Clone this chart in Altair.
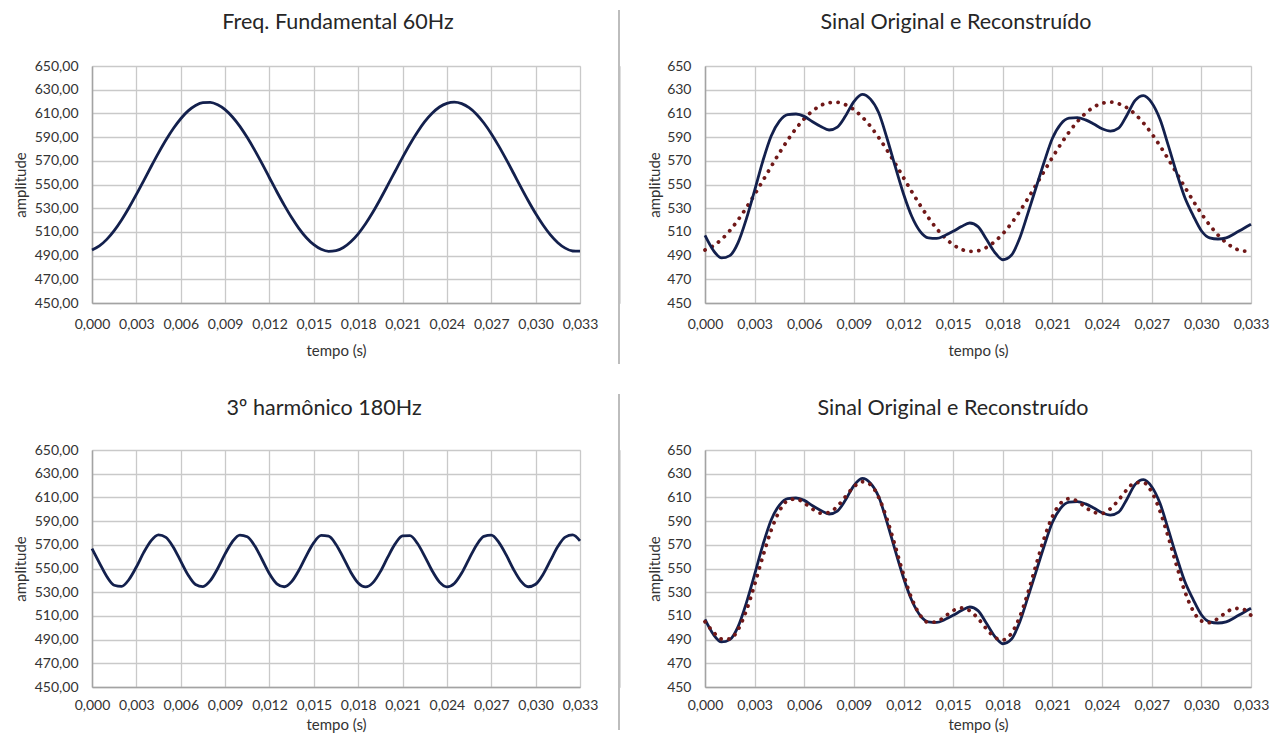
import altair as alt
import pandas as pd

# ---------------- data ----------------
t_s = [0.0, 0.0005, 0.001, 0.0015, 0.002, 0.0025, 0.003, 0.0035, 0.004, 0.0045,
       0.005, 0.0055, 0.006, 0.0065, 0.007, 0.0075, 0.008, 0.0085, 0.009, 0.0095,
       0.01, 0.0105, 0.011, 0.0115, 0.012, 0.0125, 0.013, 0.0135, 0.014, 0.0145,
       0.015, 0.0155, 0.016, 0.0165, 0.017, 0.0175, 0.018, 0.0185, 0.019, 0.0195,
       0.02, 0.0205, 0.021, 0.0215, 0.022, 0.0225, 0.023, 0.0235, 0.024, 0.0245,
       0.025, 0.0255, 0.026, 0.0265, 0.027, 0.0275, 0.028, 0.0285, 0.029, 0.0295,
       0.03, 0.0305, 0.031, 0.0315, 0.032, 0.0325, 0.033]

fund_60hz = [494.8, 498.2, 503.7, 511.1, 520.1, 530.4, 541.6, 553.3, 565.2, 576.7,
             587.5, 597.2, 605.5, 612.1, 616.7, 619.1, 619.3, 617.3, 613.2, 607.0,
             599.1, 589.6, 579.0, 567.6, 555.7, 543.9, 532.6, 522.1, 512.8, 505.1,
             499.2, 495.3, 493.6, 494.1, 496.8, 501.7, 508.4, 516.9, 526.8, 537.8,
             549.4, 561.2, 572.9, 584.0, 594.1, 603.0, 610.1, 615.4, 618.5, 619.5,
             618.2, 614.8, 609.3, 601.9, 592.9, 582.6, 571.4, 559.7, 547.8, 536.3,
             525.5, 515.8, 507.5, 500.9, 496.3, 493.9, 493.7]

harm3_180hz = [566.8, 554.8, 543.3, 535.9, 534.9, 540.7, 551.3, 563.6, 573.6, 578.4,
               576.3, 568.0, 556.2, 544.5, 536.5, 534.7, 539.7, 550.0, 562.3, 572.7,
               578.2, 576.8, 569.2, 557.6, 545.6, 537.1, 534.6, 538.9, 548.7, 560.9,
               571.8, 577.9, 577.3, 570.3, 559.0, 546.9, 537.8, 534.5, 538.1, 547.4,
               559.6, 570.8, 577.5, 577.7, 571.3, 560.3, 548.1, 538.5, 534.5, 537.4,
               546.2, 558.2, 569.7, 577.1, 578.1, 572.3, 561.7, 549.4, 539.4, 534.6,
               536.7, 545.0, 556.8, 568.5, 576.5, 578.3, 573.3]

original = [507, 494.5, 488, 490, 501, 521, 545, 570, 591, 603.5,
            609, 609.5, 607.5, 603, 599, 596, 598.5, 608, 620, 626,
            622, 610.5, 589, 565, 542, 523, 510.5, 505, 504.5, 507,
            510.5, 514.5, 517.5, 514.5, 504, 493, 486.5, 490, 504, 525,
            547, 569, 589, 601, 606, 606.5, 604.5, 601, 597, 595,
            597.5, 608.5, 621, 625, 619, 605, 583, 560, 539, 524,
            511, 505, 504, 505, 508.5, 512.5, 516.5]

reconstructed = [505.1, 496.5, 490.5, 490.5, 498.5, 514.6, 536.4, 560.4, 582.3, 598.6,
                 607.3, 608.7, 605.2, 600.1, 596.7, 597.3, 602.5, 610.8, 619.0, 623.2,
                 620.8, 609.9, 591.7, 568.7, 544.8, 524.5, 510.7, 504.5, 505.0, 509.5,
                 514.5, 516.7, 514.4, 507.9, 499.3, 492.1, 489.7, 494.9, 508.4, 528.7,
                 552.5, 575.5, 593.9, 605.2, 608.9, 606.8, 601.7, 597.4, 596.5, 600.4,
                 607.9, 616.5, 622.5, 622.5, 614.5, 598.4, 576.6, 552.6, 530.7, 514.4,
                 505.7, 504.3, 507.8, 512.9, 516.3, 515.7, 510.5]

x_ticks = [0.0, 0.003, 0.006, 0.009, 0.012, 0.015, 0.018, 0.021, 0.024, 0.027, 0.030, 0.033]
y_ticks = [450, 470, 490, 510, 530, 550, 570, 590, 610, 630, 650]

title_tl = "Freq. Fundamental 60Hz"
title_tr = "Sinal Original e Reconstruído"
title_bl = "3º harmônico 180Hz"
title_br = "Sinal Original e Reconstruído"

# ---------------- styling ----------------
FONT = "Lato"
TXT = "#333333"
GRID = "#c9c9c9"
NAVY = "#13204d"
MAROON = "#701818"

df_f = pd.DataFrame({"t": t_s, "v": fund_60hz})
df_h = pd.DataFrame({"t": t_s, "v": harm3_180hz})
df_o = pd.DataFrame({"t": t_s, "v": original})
df_r = pd.DataFrame({"t": t_s, "v": reconstructed})


def x_enc(label_pad, title_pad):
    return alt.X("t:Q",
                 scale=alt.Scale(domain=[0, 0.033], nice=False, zero=False),
                 axis=alt.Axis(values=x_ticks, title="tempo (s)",
                               labelExpr="replace(format(datum.value, '.3f'), '.', ',')",
                               grid=True, gridColor=GRID, gridWidth=1.3,
                               ticks=False, tickSize=0, labelPadding=label_pad,
                               titlePadding=title_pad, labelFontSize=14, titleFontSize=15,
                               labelFont=FONT, titleFont=FONT, labelColor=TXT, titleColor=TXT,
                               titleFontWeight="normal", domainColor="#a3a3a3", domainWidth=1.5,
                               labelFlush=False, labelOverlap=False))


def y_enc(decimals, extent, title_pad):
    if decimals:
        expr = "replace(format(datum.value, '.2f'), '.', ',')"
    else:
        expr = "format(datum.value, 'd')"
    return alt.Y("v:Q",
                 scale=alt.Scale(domain=[450, 650], nice=False, zero=False),
                 axis=alt.Axis(values=y_ticks, title="amplitude", labelExpr=expr,
                               grid=True, gridColor=GRID, gridWidth=1.3,
                               ticks=False, tickSize=0, labelPadding=14,
                               minExtent=extent, maxExtent=extent, titlePadding=title_pad,
                               labelFontSize=14, titleFontSize=15, labelFont=FONT,
                               titleFont=FONT, labelColor=TXT, titleColor=TXT,
                               titleFontWeight="normal", domainColor="#a3a3a3", domainWidth=1.5,
                               labelOverlap=False))


def solid(df, decimals, extent, tpad, lp, xtp):
    return alt.Chart(df).mark_line(color=NAVY, strokeWidth=2.8, interpolate="monotone").encode(
        x=x_enc(lp, xtp), y=y_enc(decimals, extent, tpad))


def dotted(df, decimals, extent, tpad, lp, xtp):
    return alt.Chart(df).mark_line(color=MAROON, strokeWidth=3.8, strokeCap="round",
                                   strokeDash=[0.1, 7.8], interpolate="monotone").encode(
        x=x_enc(lp, xtp), y=y_enc(decimals, extent, tpad))


def separator(y0, y1, h):
    return alt.Chart(pd.DataFrame({"k": [0]})).mark_rule(color="#bdbdbd", strokeWidth=2).encode(
        x=alt.value(0), y=alt.value(y0), y2=alt.value(y1)
    ).properties(width=1, height=h)


def ttl(text, dx, offset):
    return alt.TitleParams(text=text, font=FONT, fontSize=21.5, fontWeight="normal",
                           color="#262626", dx=dx, offset=offset, baseline="bottom",
                           anchor="middle", frame="group")


LW, RW, H = 488, 546, 237

tl = solid(df_f, True, 58, 6, 14, 12).properties(
    width=LW, height=H, title=ttl(title_tl, 2, 4))

tr = alt.layer(
    dotted(df_f, False, 38, 5, 14, 12),
    solid(df_o, False, 38, 5, 14, 12),
).properties(width=RW, height=H, title=ttl(title_tr, -22, 4))

bl = solid(df_h, True, 58, 6, 11, 5).properties(
    width=LW, height=H, title=ttl(title_bl, -12, 2))

br = alt.layer(
    solid(df_o, False, 38, 5, 11, 5),
    dotted(df_r, False, 38, 5, 11, 5),
).properties(width=RW, height=H, title=ttl(title_br, -25, 2))

top = alt.hconcat(tl, separator(-56, 298, H), tr, spacing=18)
bottom = alt.hconcat(bl, separator(-56, 280, H), br, spacing=18)
# pad the gap between separator and right panel a little more
top = alt.hconcat(tl, alt.hconcat(separator(-56, 298, H), tr, spacing=25), spacing=18)
bottom = alt.hconcat(bl, alt.hconcat(separator(-56, 280, H), br, spacing=25), spacing=18)

chart = alt.vconcat(top, bottom, spacing=26).properties(
    padding={"left": 4, "top": 0, "right": 0, "bottom": 0}
).configure_view(stroke=None).configure(background="white")

chart.save("out.html", embed_options={"renderer": "svg", "actions": False})
